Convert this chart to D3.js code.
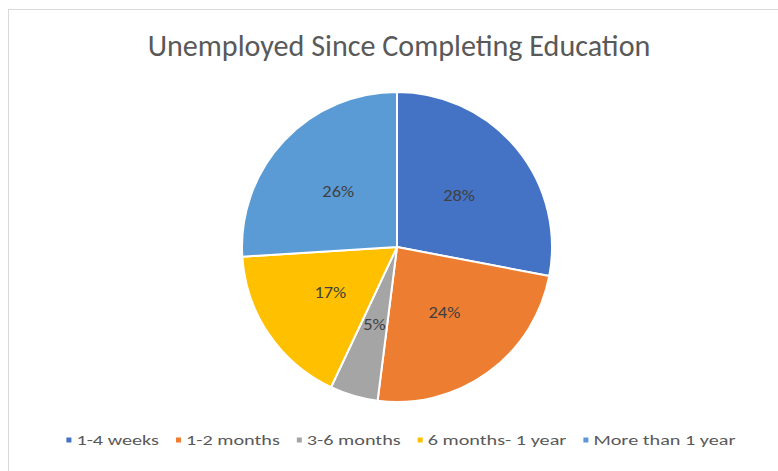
<!DOCTYPE html>
<html>
<head>
<meta charset="utf-8">
<script src="https://cdn.jsdelivr.net/npm/d3@7"></script>
<style>
  html, body { margin: 0; padding: 0; background: #fff; }
  svg { display: block; }
</style>
</head>
<body>
<svg id="chart" width="778" height="471"></svg>
<script>
// Share of respondents by time spent unemployed since completing education
const categories = ["1-4 weeks", "1-2 months", "3-6 months", "6 months- 1 year", "More than 1 year"];
const shares = [28, 24, 5, 17, 26];
const colors = ["#4472C4", "#ED7D31", "#A5A5A5", "#FFC000", "#5B9BD5"];
const title = "Unemployed Since Completing Education";

const W = 778, H = 471;
const svg = d3.select("#chart");
const font = "Calibri, Carlito, Lato, 'Open Sans', sans-serif";

// chart area frame (left and top edges)
svg.append("rect")
  .attr("x", 8.5).attr("y", 9.5)
  .attr("width", W).attr("height", H)
  .attr("fill", "#fff")
  .attr("stroke", "#d9d9d9").attr("stroke-width", 1);

// title, fitted to its span
const t = svg.append("text")
  .attr("x", 399).attr("y", 56)
  .attr("text-anchor", "middle")
  .attr("font-family", font)
  .attr("font-size", 24)
  .attr("fill", "#595959")
  .text(title);
const tw = t.node().getComputedTextLength();
t.attr("font-size", 24 * 503 / tw);

// pie
const cx = 397, cy = 247, R = 155;
const pie = d3.pie().sort(null).value(d => d.v)
  .startAngle(0).endAngle(2 * Math.PI);
const data = categories.map((c, i) => ({ c, v: shares[i], col: colors[i] }));
const arcs = pie(data);
const arc = d3.arc().innerRadius(0).outerRadius(R);
const labelArc = d3.arc().innerRadius(R * 0.52).outerRadius(R * 0.52);

const g = svg.append("g").attr("transform", `translate(${cx},${cy})`);
g.selectAll("path.slice").data(arcs).join("path")
  .attr("class", "slice")
  .attr("d", arc)
  .attr("fill", d => d.data.col)
  .attr("stroke", "#fff")
  .attr("stroke-width", 2)
  .attr("stroke-linejoin", "round");

// data labels, slightly widened glyphs
g.selectAll("text.lbl").data(arcs).join("text")
  .attr("class", "lbl")
  .attr("transform", d => `translate(${labelArc.centroid(d)}) scale(1.15,1)`)
  .attr("text-anchor", "middle")
  .attr("dy", "0.35em")
  .attr("font-family", font)
  .attr("font-size", 16)
  .attr("fill", "#404040")
  .text(d => d.data.v + "%");

// legend, wide glyphs
const sx = 1.5, gapMarker = 5, gapItem = 17, msize = 5;
const lg = svg.append("g");
let x = 0;
data.forEach(d => {
  const it = lg.append("g").attr("transform", `translate(${x},0)`);
  it.append("rect").attr("x", 0).attr("y", -msize / 2 - 1)
    .attr("width", msize).attr("height", msize).attr("fill", d.col);
  const tx = it.append("text")
    .attr("transform", `translate(${msize + gapMarker},0) scale(${sx},1)`)
    .attr("dy", "0.32em")
    .attr("font-family", font).attr("font-size", 13.5)
    .attr("fill", "#595959").text(d.c);
  const w = msize + gapMarker + sx * tx.node().getComputedTextLength();
  x += w + gapItem;
});
const totalW = x - gapItem;
lg.attr("transform", `translate(${401 - totalW / 2},441)`);
</script>
</body>
</html>
